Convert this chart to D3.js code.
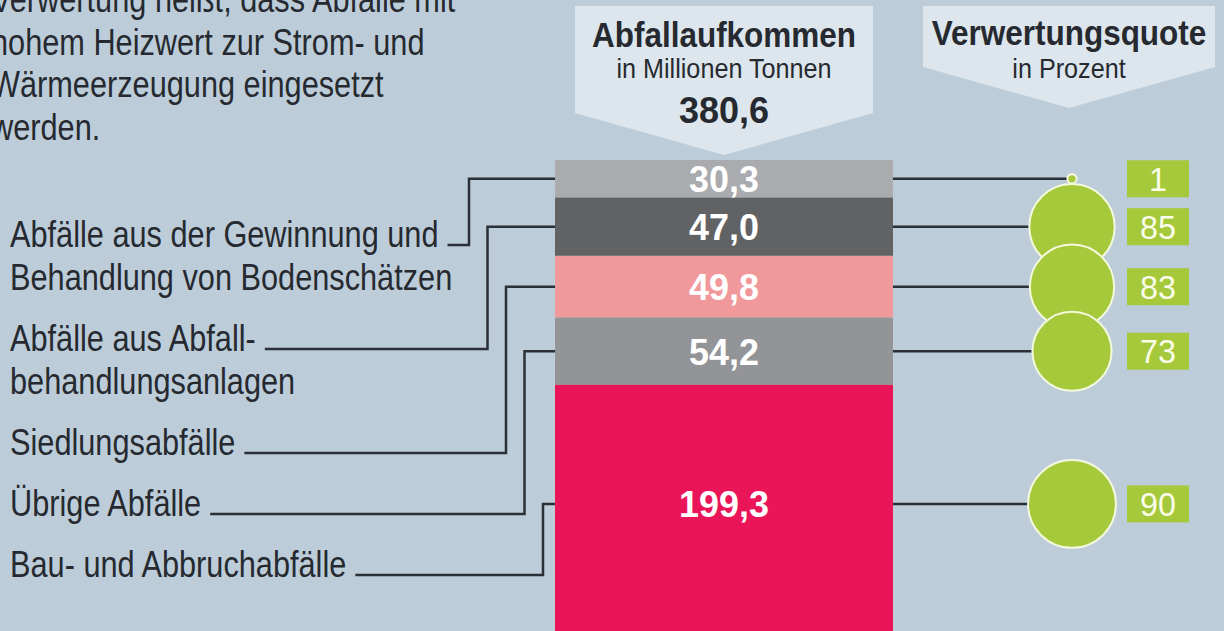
<!DOCTYPE html>
<html><head><meta charset="utf-8">
<script src="https://cdn.jsdelivr.net/npm/d3@7"></script>
<style>
html,body{margin:0;padding:0;background:#bccdd9;overflow:hidden;}
svg{display:block;}
</style></head>
<body>
<svg id="chart" width="1224" height="631"></svg>
<script>
// ---- data ----
const categories = [
  "Abfälle aus der Gewinnung und Behandlung von Bodenschätzen",
  "Abfälle aus Abfallbehandlungsanlagen",
  "Siedlungsabfälle",
  "Übrige Abfälle",
  "Bau- und Abbruchabfälle"
];
const labelLines = [
  ["Abfälle aus der Gewinnung und", "Behandlung von Bodenschätzen"],
  ["Abfälle aus Abfall-", "behandlungsanlagen"],
  ["Siedlungsabfälle"],
  ["Übrige Abfälle"],
  ["Bau- und Abbruchabfälle"]
];
const amounts = [30.3, 47.0, 49.8, 54.2, 199.3];        // Mio. t
const quotes = [1, 85, 83, 73, 90];                     // Verwertungsquote %
const segColors = ["#a9abae", "#616264", "#f1989b", "#939497", "#ea1558"];
const totalLabel = "380,6";
const introLines = ["Verwertung heißt, dass Abfälle mit", "hohem Heizwert zur Strom- und", "Wärmeerzeugung eingesetzt", "werden."];
const header1 = ["Abfallaufkommen", "in Millionen Tonnen"];
const header2 = ["Verwertungsquote", "in Prozent"];

// ---- setup ----
const svg = d3.select("#chart");
const FONT = "'Liberation Sans','Arial',sans-serif";
const TXT = "#262a30", LINE = "#2b2f36", GREEN = "#a5c93b";

// condensed text helper (emulates a narrow typeface by horizontal scaling)
function txt(parent, x, y, s, o) {
  const t = parent.append("text")
    .attr("transform", `translate(${x},${y}) scale(${o.sx || 1},1)`)
    .attr("text-anchor", o.anchor || "start")
    .attr("font-family", FONT).attr("font-size", o.size)
    .attr("font-weight", o.weight || "normal")
    .attr("fill", o.fill || TXT)
    .text(s);
  if (o.dy) t.attr("dy", o.dy);
  return t;
}

const total = d3.sum(amounts);
const stack = [];
let acc = 0;
amounts.forEach((v, i) => { stack.push({i, v, y0: acc, y1: acc + v, q: quotes[i]}); acc += v; });

const barX0 = 555, barX1 = 893, barTop = 160;
const y = d3.scaleLinear().domain([0, total]).range([barTop, barTop + total * 1.24]);
const visBottom = 623;
const midY = d => (y(d.y0) + Math.min(y(d.y1), visBottom)) / 2;
const r = d3.scaleSqrt().domain([0, 100]).range([0, 46.3]);
const circX = 1072;

// ---- intro text ----
const ig = svg.append("g");
introLines.forEach((s, i) => txt(ig, -9, 12 + i * 42.7, s, {size: 37, sx: 0.83}));

// ---- header boxes ----
function header(x0, x1, yTop, ySide, yTip, lines, ys) {
  const cx = (x0 + x1) / 2;
  const g = svg.append("g");
  g.append("path")
    .attr("d", `M${x0},${yTop}H${x1}V${ySide}L${cx},${yTip}L${x0},${ySide}Z`)
    .attr("fill", "#dde6ed");
  txt(g, cx, ys[0], lines[0], {size: 35, weight: "bold", sx: 0.9, anchor: "middle"});
  txt(g, cx, ys[1], lines[1], {size: 28, sx: 0.9, anchor: "middle"});
  return g;
}
const h1 = header(575, 873, 6, 113, 155, header1, [47, 78]);
txt(h1, 724, 123, totalLabel, {size: 36, weight: "bold", anchor: "middle"});
header(923, 1215, 6, 67, 108, header2, [45, 78]);

// ---- bar segments ----
const fmt = v => d3.format(".1f")(v).replace(".", ",");
const bg = svg.append("g");
bg.selectAll("rect").data(stack).join("rect")
  .attr("x", barX0).attr("width", barX1 - barX0)
  .attr("y", d => y(d.y0)).attr("height", d => y(d.y1) - y(d.y0))
  .attr("fill", (d, i) => segColors[i]);
stack.forEach(d => txt(bg, (barX0 + barX1) / 2, midY(d), fmt(d.v),
  {size: 37, weight: "bold", anchor: "middle", fill: "#ffffff", dy: "0.36em", sx: 0.97}));

// ---- left labels + leaders ----
const lineStep = 43, groupExtra = 18, firstBase = 247;
const lg = svg.append("g");
let lineIdx = 0;
stack.forEach((d, gi) => {
  const lines = labelLines[gi];
  let firstEnd = 0, firstBaseY = 0;
  lines.forEach((s, li) => {
    const by = firstBase + lineIdx * lineStep + gi * groupExtra;
    const t = txt(lg, 10, by, s, {size: 37, sx: 0.83});
    if (li === 0) { firstEnd = 10 + t.node().getComputedTextLength() * 0.83; firstBaseY = by; }
    lineIdx++;
  });
  const elbowX = barX0 - 12 - (stack.length - 1 - gi) * 18.5;
  const ly = firstBaseY - 2;
  const sy = midY(d);
  lg.append("path")
    .attr("d", `M${firstEnd + 9},${ly}H${elbowX}V${sy}H${barX0}`)
    .attr("fill", "none").attr("stroke", LINE).attr("stroke-width", 2.5);
});

// ---- right leaders, circles, value boxes ----
const rg = svg.append("g");
rg.selectAll("line").data(stack).join("line")
  .attr("x1", barX1).attr("x2", circX).attr("y1", d => midY(d)).attr("y2", d => midY(d))
  .attr("stroke", LINE).attr("stroke-width", 2.5);
rg.selectAll("circle").data(stack).join("circle")
  .attr("cx", circX).attr("cy", d => midY(d)).attr("r", d => r(d.q))
  .attr("fill", GREEN).attr("stroke", "#f4f8dc").attr("stroke-width", 2);
rg.selectAll("rect").data(stack).join("rect")
  .attr("x", 1127).attr("width", 62).attr("y", d => midY(d) - 18.5).attr("height", 37)
  .attr("fill", GREEN);
stack.forEach(d => txt(rg, 1158, midY(d), String(d.q),
  {size: 34, anchor: "middle", fill: "#fbfde8", dy: "0.36em", sx: 0.95}));
</script>
</body></html>
